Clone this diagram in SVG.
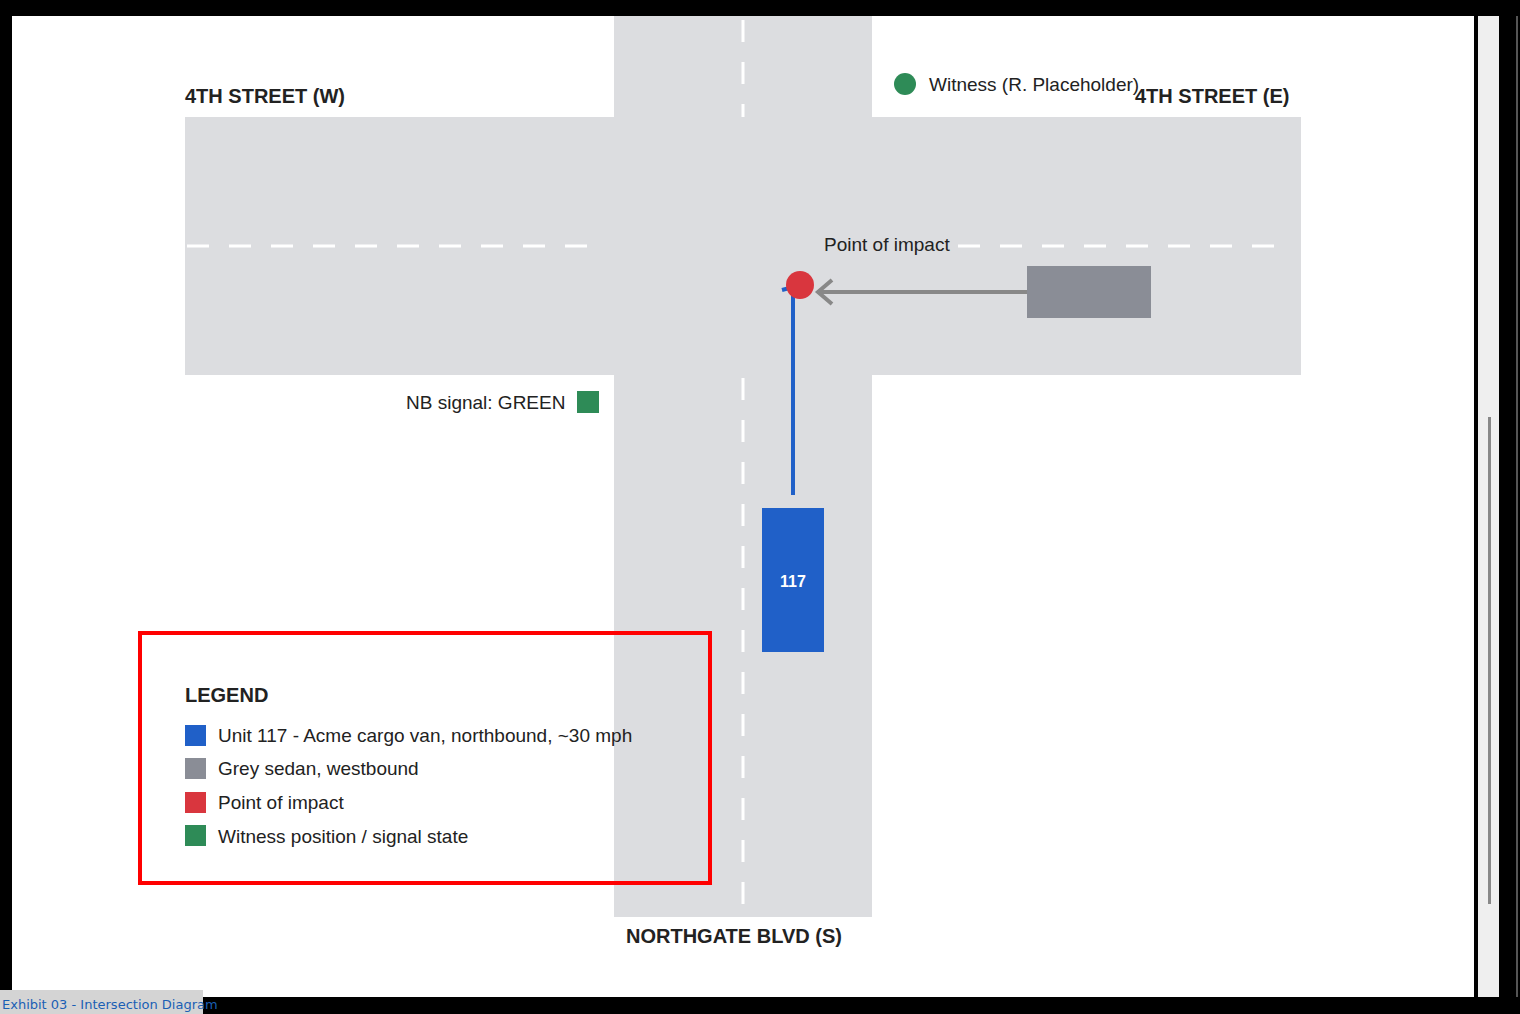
<svg xmlns="http://www.w3.org/2000/svg" width="1520" height="1014" viewBox="0 0 1520 1014">
<style>
.t{font-family:"Liberation Sans",Arial,sans-serif;fill:#222}
.b{font-weight:bold;font-size:20px}
.r{font-size:19px}
.dash{stroke:#fff;stroke-width:3;stroke-dasharray:22 20;fill:none}
</style>
<rect width="1520" height="1014" fill="#000"/>
<rect x="12" y="16" width="1462" height="981" fill="#fff"/>
<rect x="1478" y="16" width="21" height="981" fill="#efefef"/>
<rect x="1488" y="417" width="3" height="487" fill="#888"/>
<rect x="1516" y="16" width="2" height="981" fill="#555"/>
<g id="roads">
<rect x="614" y="16" width="258" height="901" fill="#dcdde0"/>
<rect x="185" y="117" width="1116" height="258" fill="#dcdde0"/>
<path class="dash" d="M743 20V117M743 378V917"/>
<path class="dash" d="M187 246H600M958 246H1290"/>
</g>
<g id="labels">
<text class="t b" x="185" y="103">4TH STREET (W)</text>
<text class="t b" x="1135" y="103">4TH STREET (E)</text>
<text class="t b" x="626" y="943">NORTHGATE BLVD (S)</text>
<text class="t r" x="824" y="251">Point of impact</text>
</g>
<g id="witness"><circle cx="905" cy="84" r="11" fill="#2e8b57"/><text class="t r" x="929" y="91">Witness (R. Placeholder)</text></g>
<g id="signal"><rect x="577" y="391" width="22" height="22" fill="#2e8b57"/><text class="t r" x="406" y="409">NB signal: GREEN</text></g>
<g id="connectors">
<path d="M793 495V287L782 290" stroke="#2060c8" stroke-width="4" fill="none"/>
<path d="M1027 292H818M832 280L818 292L832 304" stroke="#888" stroke-width="4" fill="none"/>
</g>
<g id="sedan"><rect x="1027" y="266" width="124" height="52" fill="#8a8d96"/></g>
<g id="van"><rect x="762" y="508" width="62" height="144" fill="#2060c8"/><text x="793" y="587" text-anchor="middle" style="font-family:'Liberation Sans',sans-serif;font-weight:bold;font-size:16px;fill:#fff">117</text></g>
<g id="impact"><circle cx="800" cy="285" r="14" fill="#d9363e"/></g>
<g id="legend">
<rect x="140" y="633" width="570" height="250" fill="none" stroke="#f00" stroke-width="4"/>
<text class="t b" x="185" y="702">LEGEND</text>
<rect x="185" y="725" width="21" height="21" fill="#2060c8"/><text class="t r" x="218" y="742">Unit 117 - Acme cargo van, northbound, ~30 mph</text>
<rect x="185" y="758" width="21" height="21" fill="#8a8d96"/><text class="t r" x="218" y="775">Grey sedan, westbound</text>
<rect x="185" y="792" width="21" height="21" fill="#d9363e"/><text class="t r" x="218" y="809">Point of impact</text>
<rect x="185" y="825" width="21" height="21" fill="#2e8b57"/><text class="t r" x="218" y="843">Witness position / signal state</text>
</g>
<g id="tab"><rect x="0" y="990" width="203" height="24" fill="#d4d4d4"/><text x="2" y="1009" style="font-family:'DejaVu Sans',sans-serif;font-size:13px;fill:#1a5fb4">Exhibit 03 - Intersection Diagram</text></g>
</svg>
